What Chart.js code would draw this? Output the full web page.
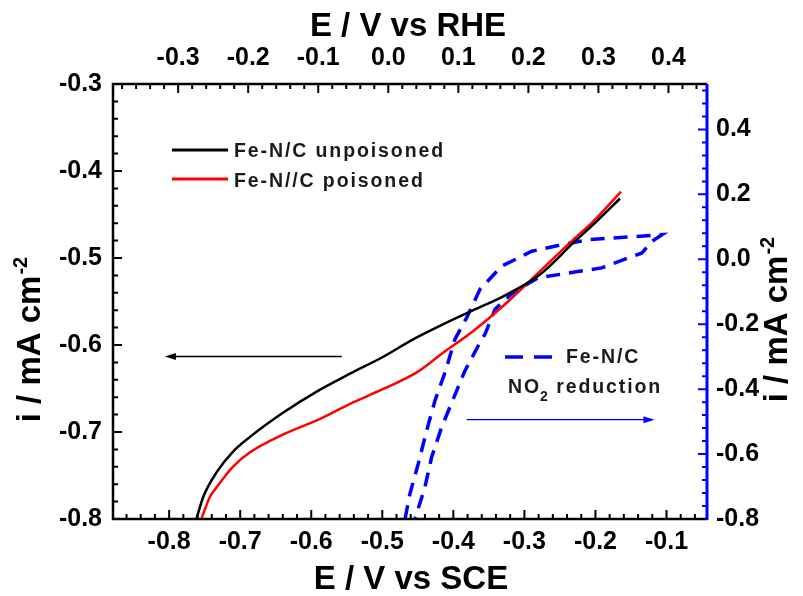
<!DOCTYPE html>
<html><head><meta charset="utf-8">
<script src="https://cdn.jsdelivr.net/npm/chart.js@4.4.0/dist/chart.umd.min.js"></script>
<style>html,body{margin:0;padding:0;background:#fff;}#wrap{width:803px;height:596px;}</style>
</head><body><div id="wrap"><canvas id="c" width="803" height="596"></canvas></div>
<script>
// ---- tick labels ----
const sceTicks = [-0.8, -0.7, -0.6, -0.5, -0.4, -0.3, -0.2, -0.1];
const rheTicks = [-0.3, -0.2, -0.1, 0.0, 0.1, 0.2, 0.3, 0.4];
const leftTicks = [-0.8, -0.7, -0.6, -0.5, -0.4, -0.3];
const rightTicks = [-0.8, -0.6, -0.4, -0.2, 0.0, 0.2, 0.4];

// ---- series (E vs SCE / V, i / mA cm-2) ----
const unpoisonedE = [-0.7612, -0.7519, -0.7331, -0.7097, -0.6862, -0.6393, -0.5923, -0.5454, -0.4986, -0.4610, -0.4188, -0.3719, -0.3249, -0.2780, -0.2312, -0.1983, -0.1655];
const unpoisonedI = [-0.799, -0.7745, -0.7462, -0.7222, -0.7056, -0.6776, -0.6535, -0.6330, -0.6135, -0.5955, -0.5780, -0.5600, -0.5420, -0.5189, -0.4827, -0.4579, -0.4316];

const poisonedE = [-0.7542, -0.7425, -0.7331, -0.7097, -0.6862, -0.6393, -0.5923, -0.5454, -0.4986, -0.4516, -0.4117, -0.3719, -0.3249, -0.2780, -0.2312, -0.2030, -0.1640];
const poisonedI = [-0.799, -0.7745, -0.7634, -0.7394, -0.7233, -0.7027, -0.6867, -0.6676, -0.6505, -0.6315, -0.6072, -0.5838, -0.5514, -0.5151, -0.4788, -0.4579, -0.4236];

const no2E = [-0.4680, -0.4610, -0.4493, -0.4375, -0.4258, -0.4117, -0.3977, -0.3812, -0.3625, -0.3320, -0.2897, -0.2471, -0.2077, -0.1598, -0.1063,
              -0.1204, -0.1345, -0.1538, -0.1912, -0.2358, -0.2804, -0.3132, -0.3414, -0.3554, -0.3625, -0.3836, -0.4001, -0.4164, -0.4305, -0.4399, -0.4540];
const no2I = [-0.800, -0.7212, -0.6292, -0.5271, -0.4351, -0.3483, -0.2459, -0.1797, -0.0926, -0.0212, 0.0248, 0.0454, 0.0607, 0.0678, 0.0760,
              0.0555, 0.0196, 0.0043, -0.0264, -0.0417, -0.0570, -0.0978, -0.1539, -0.2306, -0.2563, -0.3431, -0.4299, -0.5170, -0.6090, -0.7010, -0.800];

// annotation arrows (data units)
const leftArrow = { from: [-0.557, -0.6132], to: [-0.806, -0.6132] };
const rightArrow = { from: [-0.3812, -0.494], to: [-0.117, -0.494] };

const FONT = "'Liberation Sans', Arial, sans-serif";
const pts = (xs, ys) => xs.map((x, i) => ({ x: x, y: ys[i] }));
const fmt = v => (Math.abs(v) < 1e-9 ? 0 : v).toFixed(1);
const tickFont = { family: FONT, size: 25, weight: 'bold' };

function spaced(ctx, str, x, y, sp) {
  let cx = x;
  for (const ch of str) { ctx.fillText(ch, cx, y); cx += ctx.measureText(ch).width + sp; }
  return cx;
}

const decor = {
  id: 'decor',
  afterDatasetsDraw(chart) {
    const ctx = chart.ctx, a = chart.chartArea, s = chart.scales;
    ctx.save();
    function minors(min, max, step) {
      const out = []; const st = Math.ceil(min / step - 1e-6), en = Math.floor(max / step + 1e-6);
      for (let k = st; k <= en; k++) out.push(k * step);
      return out;
    }
    function hTicks(scale, majors, minorStep, y, dir, color) {
      ctx.strokeStyle = color; ctx.lineWidth = 2;
      ctx.beginPath();
      minors(scale.min, scale.max, minorStep).forEach(v => { const p = scale.getPixelForValue(v); ctx.moveTo(p, y); ctx.lineTo(p, y + dir * 5); });
      majors.forEach(v => { const p = scale.getPixelForValue(v); ctx.moveTo(p, y); ctx.lineTo(p, y + dir * 9); });
      ctx.stroke();
    }
    function vTicks(scale, majors, minorStep, x, dir, color) {
      ctx.strokeStyle = color; ctx.lineWidth = 2;
      ctx.beginPath();
      minors(scale.min, scale.max, minorStep).forEach(v => { const p = scale.getPixelForValue(v); ctx.moveTo(x, p); ctx.lineTo(x + dir * 5, p); });
      majors.forEach(v => { const p = scale.getPixelForValue(v); ctx.moveTo(x, p); ctx.lineTo(x + dir * 9, p); });
      ctx.stroke();
    }
    hTicks(s.x, sceTicks, 0.02, a.bottom, -1, '#000');
    hTicks(s.x2, rheTicks, 0.02, a.top, 1, '#000');
    vTicks(s.y, leftTicks, 0.02, a.left, 1, '#000');
    vTicks(s.y2, rightTicks, 0.04, a.right, -1, '#0000ff');
    // frame
    ctx.lineWidth = 2.5; ctx.strokeStyle = '#000';
    ctx.beginPath();
    ctx.moveTo(a.right, a.top); ctx.lineTo(a.left, a.top); ctx.lineTo(a.left, a.bottom); ctx.lineTo(a.right, a.bottom);
    ctx.stroke();
    ctx.lineWidth = 3; ctx.strokeStyle = '#0000ff';
    ctx.beginPath(); ctx.moveTo(a.right, a.top); ctx.lineTo(a.right, a.bottom + 1); ctx.stroke();

    // arrows
    function arrow(arw, ys, color) {
      const x1 = s.x.getPixelForValue(arw.from[0]), y1 = ys.getPixelForValue(arw.from[1]);
      const x2 = s.x.getPixelForValue(arw.to[0]), y2 = ys.getPixelForValue(arw.to[1]);
      const d = Math.sign(x2 - x1);
      ctx.strokeStyle = color; ctx.fillStyle = color; ctx.lineWidth = 1.3;
      ctx.beginPath(); ctx.moveTo(x1, y1); ctx.lineTo(x2 - d * 6, y2); ctx.stroke();
      ctx.beginPath(); ctx.moveTo(x2, y2); ctx.lineTo(x2 - d * 11, y2 - 3.5); ctx.lineTo(x2 - d * 11, y2 + 3.5); ctx.closePath(); ctx.fill();
    }
    arrow(leftArrow, s.y, '#000');
    arrow(rightArrow, s.y2, '#0000ff');

    // legends
    ctx.lineWidth = 3; ctx.setLineDash([]);
    ctx.strokeStyle = '#000'; ctx.beginPath(); ctx.moveTo(172, 150); ctx.lineTo(228, 150); ctx.stroke();
    ctx.strokeStyle = '#ff0000'; ctx.beginPath(); ctx.moveTo(172, 179); ctx.lineTo(228, 179); ctx.stroke();
    ctx.strokeStyle = '#0000ff'; ctx.lineWidth = 3.5; ctx.setLineDash([18, 11]); ctx.beginPath(); ctx.moveTo(505, 357); ctx.lineTo(554, 357); ctx.stroke();
    ctx.setLineDash([]);
    ctx.fillStyle = '#1a1a1a'; ctx.textBaseline = 'alphabetic'; ctx.textAlign = 'left';
    ctx.font = 'bold 19.5px ' + FONT;
    spaced(ctx, 'Fe-N/C unpoisoned', 234, 157, 1.9);
    spaced(ctx, 'Fe-N//C poisoned', 234, 187, 1.9);
    spaced(ctx, 'Fe-N/C', 566, 363, 1.9);
    let cx = spaced(ctx, 'NO', 508, 393, 1.9);
    ctx.font = 'bold 14px ' + FONT;
    cx = spaced(ctx, '2', cx - 1, 401, 1);
    ctx.font = 'bold 19.5px ' + FONT;
    spaced(ctx, ' reduction', cx, 393, 1.9);
    ctx.restore();
  },
  afterDraw(chart) {
    const ctx = chart.ctx;
    ctx.save();
    ctx.fillStyle = '#000'; ctx.textBaseline = 'alphabetic';
    ctx.font = 'bold 33px ' + FONT; ctx.textAlign = 'center';
    ctx.fillText('E / V vs RHE', 408, 36);
    ctx.fillText('E / V vs SCE', 411, 589);
    function yTitle(cxp, cyp) {
      ctx.save();
      ctx.translate(cxp, cyp); ctx.rotate(-Math.PI / 2);
      ctx.font = 'bold 33px ' + FONT; ctx.textAlign = 'left';
      const main = 'i / mA cm';
      const w1 = ctx.measureText(main).width;
      ctx.font = 'bold 20px ' + FONT;
      const w2 = ctx.measureText('-2').width;
      const x0 = -(w1 + w2) / 2;
      ctx.font = 'bold 33px ' + FONT;
      ctx.fillText(main, x0, 0);
      ctx.font = 'bold 20px ' + FONT;
      ctx.fillText('-2', x0 + w1 + 1, -13);
      ctx.restore();
    }
    yTitle(40, 340);
    yTitle(787, 320);
    ctx.restore();
  }
};

const commonTicks = { font: tickFont, color: '#000', callback: v => fmt(v) };

new Chart(document.getElementById('c'), {
  type: 'scatter',
  data: {
    datasets: [
      { label: 'Fe-N/C unpoisoned', data: pts(unpoisonedE, unpoisonedI), xAxisID: 'x', yAxisID: 'y', showLine: true,
        borderColor: '#000000', borderWidth: 2.5, pointRadius: 0, cubicInterpolationMode: 'monotone' },
      { label: 'Fe-N//C poisoned', data: pts(poisonedE, poisonedI), xAxisID: 'x', yAxisID: 'y', showLine: true,
        borderColor: '#ff0000', borderWidth: 2.5, pointRadius: 0, cubicInterpolationMode: 'monotone' },
      { label: 'Fe-N/C NO2 reduction', data: pts(no2E, no2I), xAxisID: 'x', yAxisID: 'y2', showLine: true,
        borderColor: '#0000ff', borderWidth: 3.5, borderDash: [14, 9], pointRadius: 0, tension: 0 }
    ]
  },
  options: {
    responsive: false, animation: false, devicePixelRatio: 1,
    layout: { padding: 0 },
    plugins: { legend: { display: false }, tooltip: { enabled: false } },
    scales: {
      x: { type: 'linear', position: 'bottom', min: -0.879, max: -0.043,
        grid: { display: false, drawTicks: false }, border: { display: false },
        ticks: Object.assign({ padding: 8 }, commonTicks),
        afterBuildTicks: sc => { sc.ticks = sceTicks.map(v => ({ value: v })); },
        afterFit: sc => { sc.height = 77; } },
      x2: { type: 'linear', position: 'top', min: -0.393, max: 0.455,
        grid: { display: false, drawTicks: false }, border: { display: false },
        ticks: Object.assign({ padding: 11 }, commonTicks),
        afterBuildTicks: sc => { sc.ticks = rheTicks.map(v => ({ value: v })); },
        afterFit: sc => { sc.height = 84; } },
      y: { type: 'linear', position: 'left', min: -0.8, max: -0.3,
        grid: { display: false, drawTicks: false }, border: { display: false },
        ticks: Object.assign({ padding: 11 }, commonTicks),
        afterBuildTicks: sc => { sc.ticks = leftTicks.map(v => ({ value: v })); },
        afterFit: sc => { sc.width = 113; } },
      y2: { type: 'linear', position: 'right', min: -0.8, max: 0.54,
        grid: { display: false, drawTicks: false }, border: { display: false },
        ticks: Object.assign({ padding: 9 }, commonTicks),
        afterBuildTicks: sc => { sc.ticks = rightTicks.map(v => ({ value: v })); },
        afterFit: sc => { sc.width = 96; } }
    }
  },
  plugins: [decor]
});
</script></body></html>
